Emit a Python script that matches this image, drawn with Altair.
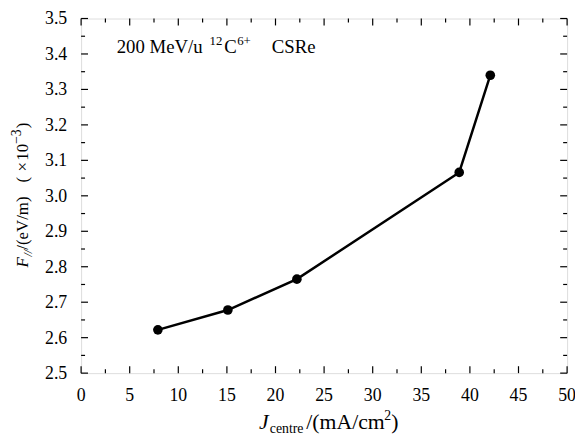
import altair as alt
import pandas as pd

# data
j_centre = [7.9, 15.1, 22.2, 38.9, 42.1]
f_par = [2.622, 2.678, 2.765, 3.066, 3.340]

x_major = [0, 5, 10, 15, 20, 25, 30, 35, 40, 45, 50]
x_labels = ["0", "5", "10", "15", "20", "25", "30", "35", "40", "45", "50"]
x_minor = [2.5, 7.5, 12.5, 17.5, 22.5, 27.5, 32.5, 37.5, 42.5, 47.5]
y_major = [2.5, 2.6, 2.7, 2.8, 2.9, 3.0, 3.1, 3.2, 3.3, 3.4, 3.5]
y_labels = ["2.5", "2.6", "2.7", "2.8", "2.9", "3.0", "3.1", "3.2", "3.3", "3.4", "3.5"]
y_minor = [2.55, 2.65, 2.75, 2.85, 2.95, 3.05, 3.15, 3.25, 3.35, 3.45]

W, H = 492, 359
FONT = "Liberation Serif"

xs = alt.Scale(domain=[0, 50], nice=False, zero=False)
ys = alt.Scale(domain=[2.5, 3.5], nice=False, zero=False)

df = pd.DataFrame({"j": j_centre, "f": f_par})

base = alt.Chart(df).encode(
    x=alt.X("j:Q", scale=xs, axis=None),
    y=alt.Y("f:Q", scale=ys, axis=None),
)
line = base.mark_line(color="black", strokeWidth=2.5)
pts = base.mark_circle(color="black", size=95, opacity=1)


def xticks(vals, length):
    d = pd.DataFrame({"j": vals})
    bot = alt.Chart(d).mark_rule(color="black", strokeWidth=1.2).encode(
        x=alt.X("j:Q", scale=xs, axis=None), y=alt.value(H), y2=alt.value(H - length))
    top = alt.Chart(d).mark_rule(color="black", strokeWidth=1.2).encode(
        x=alt.X("j:Q", scale=xs, axis=None), y=alt.value(0), y2=alt.value(length))
    return [bot, top]


def yticks(vals, length):
    d = pd.DataFrame({"f": vals})
    left = alt.Chart(d).mark_rule(color="black", strokeWidth=1.2).encode(
        y=alt.Y("f:Q", scale=ys, axis=None), x=alt.value(0), x2=alt.value(length))
    right = alt.Chart(d).mark_rule(color="black", strokeWidth=1.2).encode(
        y=alt.Y("f:Q", scale=ys, axis=None), x=alt.value(W), x2=alt.value(W - length))
    return [left, right]


# tick labels drawn through the scales
xlab = alt.Chart(pd.DataFrame({"j": x_major, "lab": x_labels})).mark_text(
    font=FONT, fontSize=18, color="black", align="center", baseline="top"
).encode(x=alt.X("j:Q", scale=xs, axis=None), y=alt.value(H + 14), text="lab:N")

ylab = alt.Chart(pd.DataFrame({"f": y_major, "lab": y_labels})).mark_text(
    font=FONT, fontSize=18, color="black", align="right", baseline="middle", dy=1
).encode(y=alt.Y("f:Q", scale=ys, axis=None), x=alt.value(-14), text="lab:N")

one = pd.DataFrame({"a": [0]})


def txt(s, x, y, size, italic=False, angle=0):
    kw = dict(font=FONT, fontSize=size, color="black", align="left", baseline="alphabetic")
    if italic:
        kw["fontStyle"] = "italic"
    if angle:
        kw["angle"] = angle
    return alt.Chart(one).mark_text(**kw).encode(
        x=alt.value(x), y=alt.value(y), text=alt.value(s))


# x-axis title: J_centre/(mA/cm^2)
xt_y = 416
x_title = [
    txt("J", 180, xt_y, 22, italic=True),
    txt("centre", 191, xt_y + 4, 14),
    txt("/(mA/cm", 228, xt_y, 22),
    txt("2", 307, xt_y - 10, 14),
    txt(")", 314, xt_y, 22),
]

# y-axis title: F_// /(eV/m)  (x10^-3), rotated
bx = -54
y_title = [
    txt("F", bx, 252, 17, italic=True, angle=270),
    txt("//", bx + 4, 241, 12, italic=True, angle=270),
    txt("/(eV/m)", bx, 234, 17, angle=270),
    txt("(", bx, 166, 17, angle=270),
    txt("×", bx, 155, 17, angle=270),
    txt("10", bx, 144, 17, angle=270),
    txt("−3", bx - 7, 127, 14, angle=270),
    txt(")", bx, 111, 17, angle=270),
]

# annotation: 200 MeV/u 12C6+ CSRe
ay = 35
annot = [
    txt("200 MeV/u", 36, ay, 19),
    txt("12", 130, ay - 8, 13),
    txt("C", 145, ay, 19),
    txt("6+", 158, ay - 8, 13),
    txt("CSRe", 193, ay, 19),
]

layers = [line, pts] + xticks(x_major, 7) + xticks(x_minor, 4) + yticks(y_major, 7) + yticks(y_minor, 4) + [xlab, ylab] + x_title + y_title + annot

chart = alt.layer(*layers).properties(
    width=W, height=H,
    autosize=alt.AutoSizeParams(type="none"),
    padding={"left": 74, "top": 8, "right": 8, "bottom": 60},
).configure_view(stroke="black", strokeWidth=1.5).configure(background="white")

chart.save("out.html", embed_options={"renderer": "svg", "actions": False})
